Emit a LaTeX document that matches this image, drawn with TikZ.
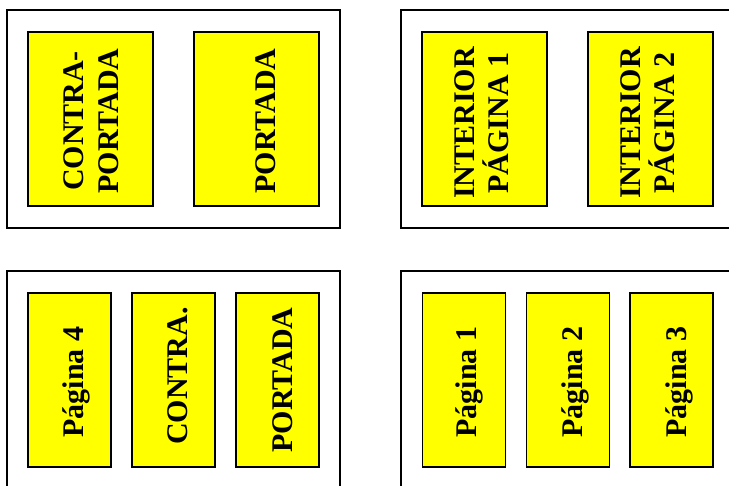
\documentclass[tikz,border=0pt]{standalone}
\usepackage{fontspec}
\setmainfont{Liberation Serif}
\definecolor{pageyellow}{RGB}{255,255,0}
\begin{document}
\begin{tikzpicture}[x=1pt,y=-1pt,
  sheet/.style={draw=black,line width=1.3pt,fill=white,rectangle,inner sep=0pt,minimum width=333pt,minimum height=218pt},
  pagebox/.style={draw=black,line width=1.3pt,fill=pageyellow,rectangle,inner sep=0pt,minimum height=174pt},
  wide/.style={minimum width=125pt},
  narrow/.style={minimum width=83pt},
  lbl/.style={rotate=90,anchor=base,inner sep=0pt,font=\fontsize{30}{34}\selectfont\bfseries}]
\useasboundingbox (0,0) rectangle (729,486);
\clip (0,0) rectangle (729,486);
% outer sheets
\node[sheet] (s1) at (173.5,119) {};
\node[sheet] (s2) at (567.5,119) {};
\node[sheet] (s3) at (173.5,380) {};
\node[sheet] (s4) at (567.5,380) {};
% top-left
\node[pagebox,wide] (a1) at (90.5,119) {};
\node[pagebox,wide] (a2) at (256.5,119) {};
\node[lbl] (ta1) at (83,121) {CONTRA-};
\node[lbl] (ta1b) at (118,121) {PORTADA};
\node[lbl] (ta2) at (275,121) {PORTADA};
% top-right
\node[pagebox,wide] (b1) at (484.5,119) {};
\node[pagebox,wide] (b2) at (650.5,119) {};
\node[lbl] (tb1) at (474,123) {INTERIOR};
\node[lbl] (tb1b) at (508,123) {PÁGINA 1};
\node[lbl] (tb2) at (640,123) {INTERIOR};
\node[lbl] (tb2b) at (674,123) {PÁGINA 2};
% bottom-left
\node[pagebox,narrow] (c1) at (69.5,380) {};
\node[pagebox,narrow] (c2) at (173.5,380) {};
\node[pagebox,narrow] (c3) at (277.5,380) {};
\node[lbl] (tc1) at (83,382) {Página 4};
\node[lbl] (tc2) at (187,376) {CONTRA.};
\node[lbl] (tc3) at (292,380) {PORTADA};
% bottom-right
\node[pagebox,narrow] (d1) at (464,380) {};
\node[pagebox,narrow] (d2) at (568,380) {};
\node[pagebox,narrow] (d3) at (671.5,380) {};
\node[lbl] (td1) at (476,382) {Página 1};
\node[lbl] (td2) at (582,382) {Página 2};
\node[lbl] (td3) at (686,382) {Página 3};
\end{tikzpicture}
\end{document}
